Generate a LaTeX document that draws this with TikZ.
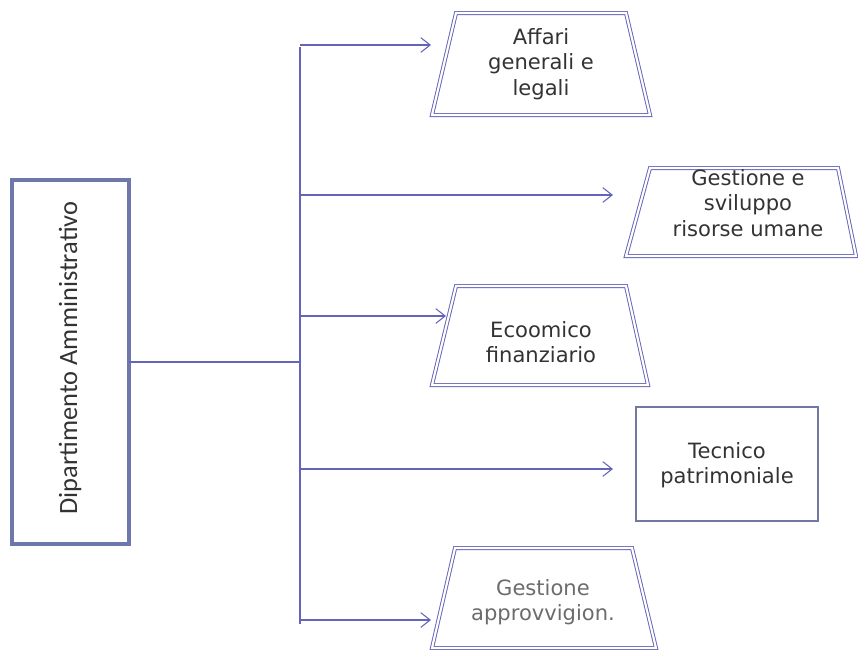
\documentclass[tikz,border=0pt]{standalone}
\usepackage{fontspec}
\setmainfont{DejaVu Sans}
\newfontfamily\calib{Carlito}
\usetikzlibrary{arrows.meta}
\definecolor{ln}{HTML}{6464B8}
\definecolor{bx}{HTML}{6E78AA}
\definecolor{tx}{HTML}{333333}
\tikzset{
  conn/.style={draw=ln, line width=0.9pt},
  arr/.style={conn, -{Straight Barb[length=7pt,width=11pt,line width=0.8pt]}},
  dbl/.style={draw=ln, double=white, double distance=1.6pt, line width=0.7pt, line join=miter},
  lbl/.style={align=center, text=tx, font=\fontsize{15.8}{19}\selectfont, inner sep=0pt},
}
\begin{document}
\begin{tikzpicture}[x=0.75pt,y=-0.75pt]
\useasboundingbox (0,0) rectangle (858,650);
% left box
\draw[draw=bx, line width=3.2pt] (12,180) rectangle (129,544);
\node[rotate=90, text=tx, font=\calib\fontsize{19.8}{22}\selectfont] (dep) at (70,358) {Dipartimento Amministrativo};
\coordinate (depR) at (129,362);
\coordinate (j0) at (300,362);
\coordinate (tTop) at (300,47);
\coordinate (tBot) at (300,624);
\draw[conn] (depR) -- (j0);
\draw[conn] (tTop) -- (tBot);
% trapezia
\draw[dbl] (456,13) -- (626,13) -- (650,115) -- (432,115) -- cycle;
\draw[dbl] (650,168) -- (838,168) -- (856,256) -- (626,256) -- cycle;
\draw[dbl] (456,286) -- (626,286) -- (648,385) -- (432,385) -- cycle;
\draw[draw=bx!80!gray, line width=0.9pt] (636,407) rectangle (818,521);
\draw[dbl] (455,548) -- (632,548) -- (656,648) -- (432,648) -- cycle;
% labels
\node[lbl] (n1) at (541,64) {Affari\\generali e\\legali};
\node[lbl] (n2) at (748,203) {Gestione e\\sviluppo\\risorse umane};
\node[lbl] (n3) at (541,342) {Ecoomico\\finanziario};
\node[lbl] (n4) at (727,465) {Tecnico\\patrimoniale};
\node[lbl, text=gray!85!black] (n5) at (543,602) {Gestione\\approvvigion.};
% arrow ends
\coordinate (a1s) at (300,45);  \coordinate (a1) at (431,45);
\coordinate (a2s) at (300,195); \coordinate (a2) at (613,195);
\coordinate (a3s) at (300,316); \coordinate (a3) at (446,316);
\coordinate (a4s) at (300,469); \coordinate (a4) at (613,469);
\coordinate (a5s) at (300,620); \coordinate (a5) at (431,620);
\draw[arr] (a1s) -- (a1);
\draw[arr] (a2s) -- (a2);
\draw[arr] (a3s) -- (a3);
\draw[arr] (a4s) -- (a4);
\draw[arr] (a5s) -- (a5);
\end{tikzpicture}
\end{document}
